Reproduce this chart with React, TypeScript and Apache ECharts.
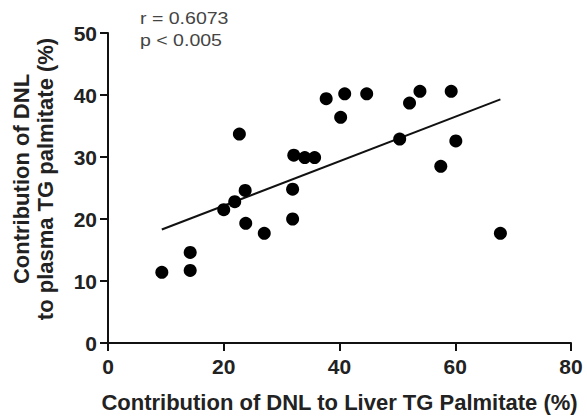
import React, { useEffect, useRef } from "react";
import * as echarts from "echarts";

const liverDNL = [9.3, 14.2, 14.2, 20.0, 21.9, 22.7, 23.7, 23.8, 27.0, 31.9, 31.9, 32.1, 34.0, 35.7, 37.7, 40.9, 40.2, 44.7, 50.4, 52.1, 53.9, 59.3, 60.1, 57.5, 67.8];
const plasmaDNL = [11.4, 14.6, 11.7, 21.5, 22.8, 33.7, 24.6, 19.3, 17.7, 24.8, 20.0, 30.3, 29.9, 29.9, 39.4, 40.2, 36.4, 40.2, 32.9, 38.7, 40.6, 40.6, 32.6, 28.5, 17.7];
const fitX = [9.3, 67.8];
const fitY = [18.3, 39.3];
const xTicks = [0, 20, 40, 60, 80];
const yTicks = [0, 10, 20, 30, 40, 50];
const statsText = ["r = 0.6073", "p < 0.005"];
const xTitle = "Contribution of DNL to Liver TG Palmitate (%)";
const yTitle = "Contribution of DNL\nto plasma TG palmitate (%)";

export default function App() {
  const ref = useRef<HTMLDivElement>(null);
  useEffect(() => {
    if (!ref.current) return;
    const chart = echarts.init(ref.current, undefined, { renderer: "svg" });
    const font = "'Liberation Sans', Arial, Helvetica, sans-serif";
    chart.setOption({
      animation: false,
      backgroundColor: "#ffffff",
      textStyle: { fontFamily: font },
      grid: { left: 108, right: 16, top: 33, bottom: 76 },
      xAxis: {
        type: "value",
        min: xTicks[0],
        max: xTicks[xTicks.length - 1],
        interval: 20,
        name: xTitle,
        nameLocation: "middle",
        nameGap: 48,
        nameTextStyle: { fontSize: 22, fontWeight: "bold", color: "#222", fontFamily: font },
        splitLine: { show: false },
        axisLine: { lineStyle: { color: "#111", width: 2 } },
        axisTick: { inside: false, length: 8, lineStyle: { color: "#111", width: 2 } },
        axisLabel: { fontSize: 21, fontWeight: "bold", color: "#222", margin: 13, fontFamily: font },
      },
      yAxis: {
        type: "value",
        min: yTicks[0],
        max: yTicks[yTicks.length - 1],
        interval: 10,
        name: yTitle,
        nameLocation: "middle",
        nameRotate: 90,
        nameGap: 51,
        nameTextStyle: {
          fontSize: 22,
          fontWeight: "bold",
          color: "#222",
          lineHeight: 24,
          padding: [0, 0, 0, 18],
          fontFamily: font,
        },
        splitLine: { show: false },
        axisLine: { lineStyle: { color: "#111", width: 2 } },
        axisTick: { inside: false, length: 8, lineStyle: { color: "#111", width: 2 } },
        axisLabel: { fontSize: 21, fontWeight: "bold", color: "#222", margin: 11, fontFamily: font },
      },
      series: [
        {
          type: "scatter",
          data: liverDNL.map((x, i) => [x, plasmaDNL[i]]),
          symbol: "circle",
          symbolSize: 13,
          itemStyle: { color: "#000", opacity: 1 },
          z: 3,
        },
        {
          type: "line",
          data: fitX.map((x, i) => [x, fitY[i]]),
          showSymbol: false,
          symbol: "none",
          lineStyle: { color: "#111", width: 2 },
          z: 2,
        },
      ],
      graphic: [
        {
          type: "text",
          left: 140,
          top: 9,
          style: { text: statsText[0], fontSize: 17, fill: "#444", fontFamily: font },
          scaleX: 1.15,
        },
        {
          type: "text",
          left: 140,
          top: 31,
          style: { text: statsText[1], fontSize: 17, fill: "#444", fontFamily: font },
          scaleX: 1.15,
        },
      ],
    });
    return () => chart.dispose();
  }, []);
  return (
    <div
      ref={ref}
      style={{ position: "fixed", left: 0, top: 0, width: 587, height: 419, background: "#fff" }}
    />
  );
}
